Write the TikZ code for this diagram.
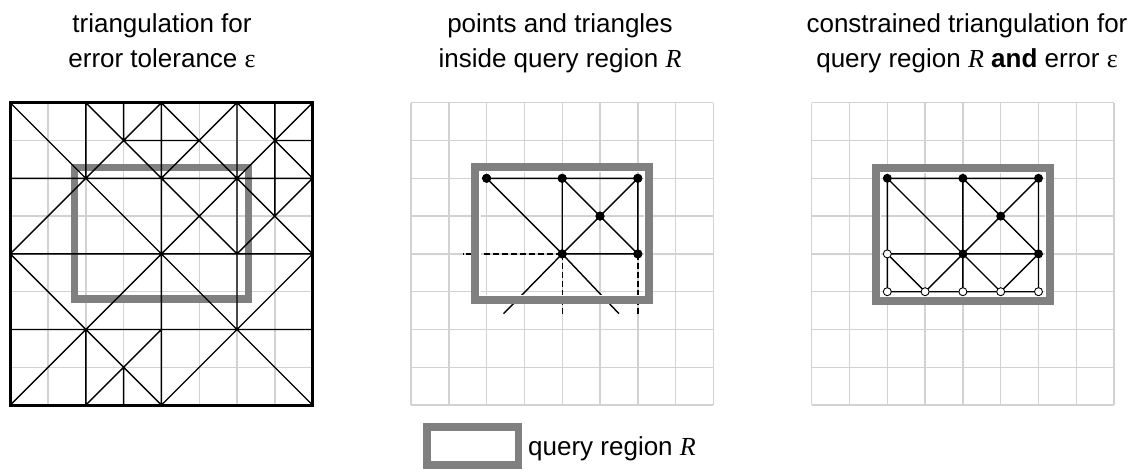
\documentclass[tikz,border=0pt]{standalone}
\usepackage{fontspec}
\setmainfont{Liberation Sans}
\newfontfamily\timesfont{Liberation Serif}
\newcommand{\regR}{{\timesfont\itshape R}}
\newcommand{\epsgl}{{\timesfont ε}}
\definecolor{gridgray}{HTML}{D2D2D2}
\definecolor{regiongray}{HTML}{808080}

\tikzset{
  gridline/.style={draw=gridgray, line width=1.4pt},
  tri/.style={draw=black, line width=1.4pt},
  frame/.style={draw=black, line width=3pt},
  region/.style={draw=regiongray, line width=7.6pt},
  regioninner/.style={draw=white, line width=1.6pt},
  dashedge/.style={draw=black, line width=1.4pt, dash pattern=on 6pt off 3pt},
  dot/.style={circle, fill=black, inner sep=0pt, minimum size=9pt},
  odot/.style={circle, draw=black, fill=white, line width=0.9pt, inner sep=0pt, minimum size=8pt},
  title/.style={font=\fontsize{26}{30}\selectfont, anchor=base, inner sep=0pt},
  panel/.style={x=37.8pt, y=-37.8pt}
}

\begin{document}
\begin{tikzpicture}[x=1pt, y=-1pt]
\useasboundingbox (0,0) rectangle (1138,469);

% ---------- titles ----------
\node[title] (t1a) at (162,32) {triangulation for};
\node[title] (t1b) at (162,67) {error tolerance \epsgl};
\node[title] (t2a) at (560,32) {points and triangles};
\node[title] (t2b) at (560,67) {inside query region \regR};
\node[title] (t3a) at (967,32) {constrained triangulation for};
\node[title] (t3b) at (967,67) {query region \regR\ \textbf{and} error \epsgl};

% ---------- panel 1: triangulation of the whole domain ----------
\begin{scope}[xshift=10.2pt, yshift=-102.7pt, panel]
  \foreach \i in {1,...,7} {
    \draw[gridline] (\i,0) -- (\i,8);
    \draw[gridline] (0,\i) -- (8,\i);
  }
  \draw[region] (1.7,1.71) rectangle (6.3,5.19);
  \draw[tri]
    % horizontal edges
    (3,1) -- (5,1)  (7,1) -- (8,1)  (0,2) -- (8,2)  (0,4) -- (8,4)  (0,6) -- (8,6)
    % vertical edges
    (2,0) -- (2,2)  (2,6) -- (2,8)  (3,0) -- (3,1)  (3,7) -- (3,8)
    (4,0) -- (4,8)  (6,0) -- (6,6)  (7,0) -- (7,3)
    % diagonal edges
    (0,0) -- (4,4)  (4,0) -- (0,4)  (2,0) -- (4,2)
    (4,0) -- (6,2)  (6,0) -- (4,2)  (6,0) -- (8,2)  (8,0) -- (6,2)
    (4,2) -- (6,4)  (6,2) -- (4,4)  (6,2) -- (8,4)  (8,2) -- (6,4)
    (0,4) -- (4,8)  (4,4) -- (0,8)  (4,4) -- (8,8)  (8,4) -- (4,8)
    (2,8) -- (4,6);
  \draw[frame] (0,0) rectangle (8,8);
\end{scope}

% ---------- panel 2: points and triangles inside R ----------
\begin{scope}[xshift=411pt, yshift=-102.7pt, panel]
  \foreach \i in {0,...,8} {
    \draw[gridline] (\i,0) -- (\i,8);
    \draw[gridline] (0,\i) -- (8,\i);
  }
  \node[dot] (a2) at (2,2) {};
  \node[dot] (b2) at (4,2) {};
  \node[dot] (c2) at (6,2) {};
  \node[dot] (d2) at (5,3) {};
  \node[dot] (e2) at (4,4) {};
  \node[dot] (f2) at (6,4) {};
  \coordinate (w2) at (1.38,4);
  \coordinate (s2a) at (4,5.6);
  \coordinate (s2b) at (6,5.6);
  \coordinate (l2) at (2.45,5.58);
  \coordinate (r2) at (5.5,5.58);
  \draw[tri] (a2.center) -- (b2.center) -- (c2.center)
             (a2.center) -- (e2.center)
             (b2.center) -- (e2.center)
             (b2.center) -- (d2.center) -- (f2.center)
             (c2.center) -- (d2.center) -- (e2.center)
             (c2.center) -- (f2.center)
             (e2.center) -- (f2.center)
             (e2.center) -- (l2)
             (e2.center) -- (r2);
  \draw[dashedge] (e2.center) -- (w2);
  \draw[dashedge] (e2.center) -- (s2a);
  \draw[dashedge] (f2.center) -- (s2b);
  \draw[region] (1.7,1.7) rectangle (6.3,5.22);
  \draw[regioninner] (1.82,1.82) rectangle (6.18,5.10);
  \foreach \p in {a2,b2,c2,d2,e2,f2} \node[dot] at (\p) {};
\end{scope}

% ---------- panel 3: constrained triangulation ----------
\begin{scope}[xshift=811.7pt, yshift=-102.7pt, panel]
  \foreach \i in {0,...,8} {
    \draw[gridline] (\i,0) -- (\i,8);
    \draw[gridline] (0,\i) -- (8,\i);
  }
  \draw[region] (1.7,1.73) rectangle (6.3,5.24);
  \draw[regioninner] (1.82,1.85) rectangle (6.18,5.12);
  \coordinate (a3) at (2,2);
  \coordinate (b3) at (4,2);
  \coordinate (c3) at (6,2);
  \coordinate (d3) at (5,3);
  \coordinate (e3) at (4,4);
  \coordinate (f3) at (6,4);
  \coordinate (g3) at (2,4);
  \coordinate (h3) at (2,5);
  \coordinate (i3) at (3,5);
  \coordinate (j3) at (4,5);
  \coordinate (k3) at (5,5);
  \coordinate (l3) at (6,5);
  \draw[tri] (a3) -- (b3) -- (c3)
             (a3) -- (g3) -- (h3)
             (a3) -- (e3)  (b3) -- (e3) -- (j3)
             (b3) -- (d3) -- (f3)
             (c3) -- (d3) -- (e3)
             (c3) -- (f3) -- (l3)
             (g3) -- (e3) -- (f3)
             (g3) -- (i3) -- (e3) -- (k3) -- (f3)
             (h3) -- (i3) -- (j3) -- (k3) -- (l3);
  \foreach \p in {a3,b3,c3,d3,e3,f3} \node[dot] (n\p) at (\p) {};
  \foreach \p in {g3,h3,i3,j3,k3,l3} \node[odot] (n\p) at (\p) {};
\end{scope}

% ---------- legend ----------
\draw[region] (427,426.8) rectangle (518.5,465);
\node[title, anchor=base west] (leg) at (528,455) {query region \regR};
\end{tikzpicture}
\end{document}
